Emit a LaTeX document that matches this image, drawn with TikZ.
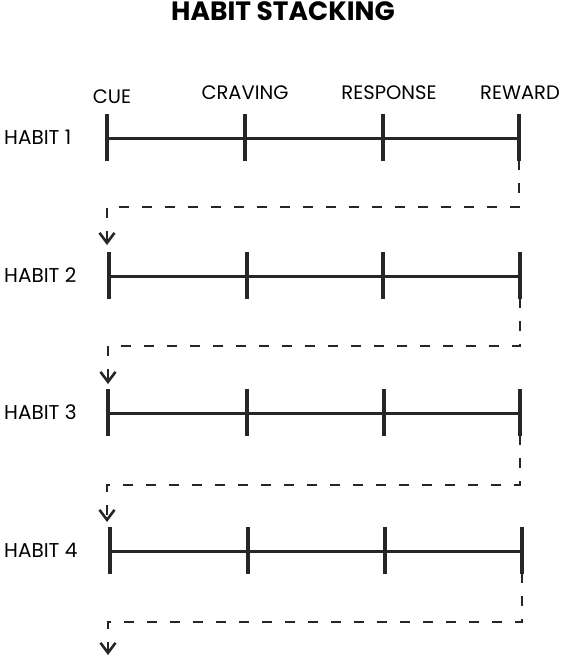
\documentclass[tikz,border=0pt]{standalone}
\usepackage{fontspec}
\setmainfont{Poppins}
\usetikzlibrary{arrows.meta}
\begin{document}
\begin{tikzpicture}[x=1pt,y=-1pt,
  lbl/.style={font=\fontsize{19.5}{20}\selectfont, inner sep=0pt, anchor=base},
  rowlbl/.style={font=\fontsize{20}{20}\selectfont, inner sep=0pt, anchor=base west},
  ttl/.style={font=\bfseries\fontsize{26.5}{27}\selectfont, inner sep=0pt, anchor=base},
  bar/.style={line width=3pt, black!85},
  tick/.style={line width=3.4pt, black!85},
  link/.style={line width=2.7pt, black!85, dash pattern=on 10pt off 13pt, -{Straight Barb[length=10pt,width=15pt,line width=2.6pt]}}
]
\useasboundingbox (0,0) rectangle (566,656);
\fill[white] (0,0) rectangle (566,656);
\node[ttl] (title) at (283,20) {HABIT STACKING};
\node[lbl] (cue) at (112,103) {CUE};
\node[lbl] (craving) at (245,99) {CRAVING};
\node[lbl] (response) at (389,99) {RESPONSE};
\node[lbl] (reward) at (520,99) {REWARD};
% rows
\foreach \r/\y/\a/\b/\c/\d in {1/138/107/245/383/519, 2/276/109/247/383/520, 3/413/108/247/384/520, 4/551/110/248/385/522}{
  \node[rowlbl] (h\r) at (4,\y+6) {HABIT \r};
  \coordinate (a\r) at (\a,\y);
  \coordinate (b\r) at (\b,\y);
  \coordinate (c\r) at (\c,\y);
  \coordinate (d\r) at (\d,\y);
  \draw[bar] (a\r) -- (b\r) -- (c\r) -- (d\r);
  \foreach \p in {a,b,c,d}{
    \draw[tick] ([yshift=-23pt]\p\r) -- ([yshift=24pt]\p\r);
  }
}
% dashed links
\coordinate (e1) at (519,207); \coordinate (f1) at (107,207); \coordinate (g1) at (107,245);
\coordinate (e2) at (520,346); \coordinate (f2) at (108,346); \coordinate (g2) at (108,384);
\coordinate (e3) at (520,485); \coordinate (f3) at (107,485); \coordinate (g3) at (107,522);
\coordinate (e4) at (522,622); \coordinate (f4) at (108,622); \coordinate (g4) at (108,655);
\foreach \r in {1,2,3,4}{
  \draw[link] ([yshift=24pt]d\r) -- (e\r) -- (f\r) -- (g\r);
}
\end{tikzpicture}
\end{document}
